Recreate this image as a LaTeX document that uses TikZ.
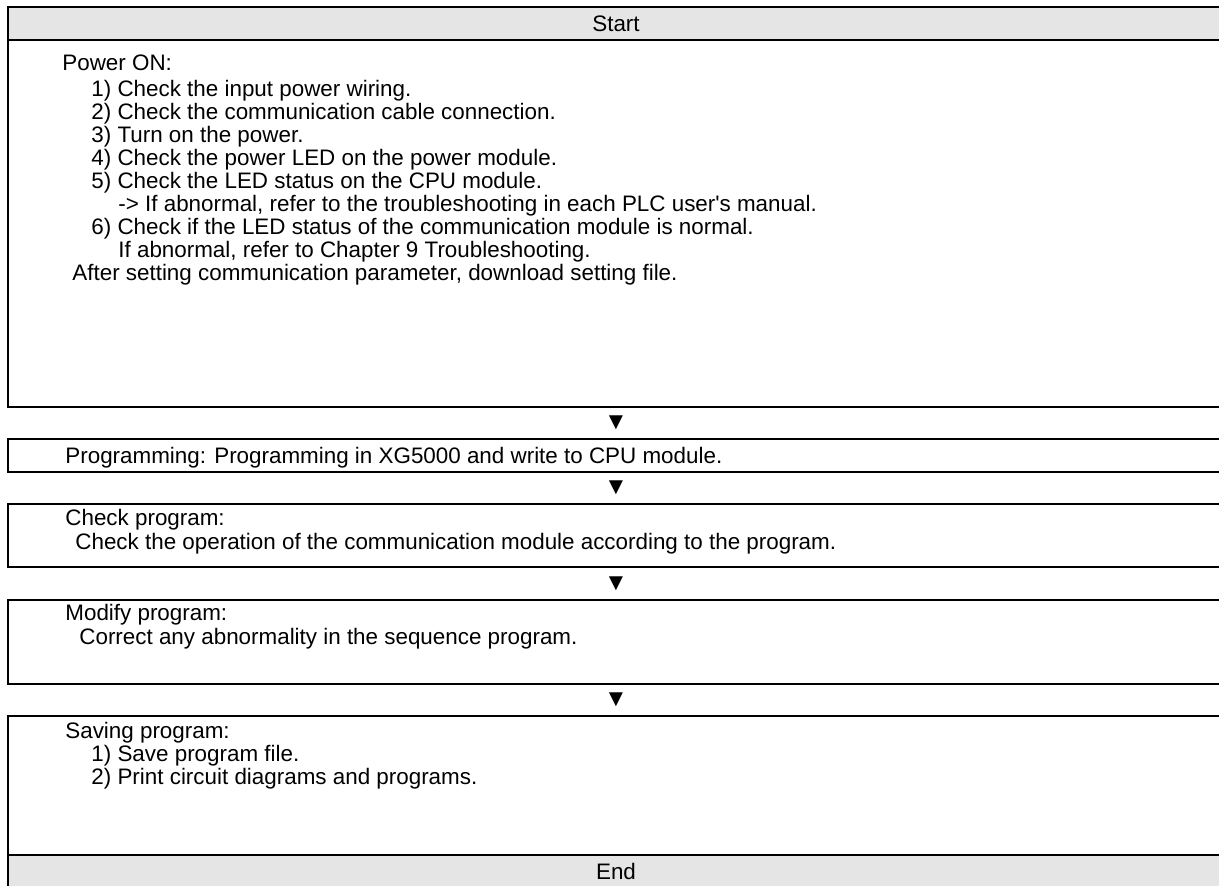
\documentclass[tikz,border=0pt]{standalone}
\usepackage{fontspec}
\setmainfont{Liberation Sans}
\usetikzlibrary{positioning}
\definecolor{barfill}{HTML}{E5E5E5}
\tikzset{
  stepbox/.style={rectangle, draw, line width=1pt, outer sep=0pt, inner sep=0pt, minimum width=608pt},
  endbar/.style={stepbox, fill=barfill, minimum height=16.5pt, font=\fontsize{11.2pt}{11.5pt}\selectfont},
  gapmark/.style={inner sep=0pt, outer sep=0pt, minimum height=16pt, font=\fontsize{12pt}{12pt}\selectfont},
  steptext/.style={anchor=north west, inner sep=0pt, align=left, font=\fontsize{11.2pt}{11.5pt}\selectfont}
}

\begin{document}
\begin{tikzpicture}
	\clip (0pt,0pt) rectangle (609.5pt,-442.5pt);
	\useasboundingbox (0pt,0pt) rectangle (609.5pt,-442.5pt);

	\node[endbar, anchor=north] (start) at (308pt,-3.5pt) {Start};
	\node[stepbox, minimum height=183.5pt, below=0pt of start] (power) {};
	\node[gapmark, below=0pt of power] (markA) {▼};
	\node[stepbox, minimum height=16.5pt, below=0pt of markA] (prog) {};
	\node[gapmark, below=0pt of prog] (markB) {▼};
	\node[stepbox, minimum height=31.5pt, below=0pt of markB] (check) {};
	\node[gapmark, minimum height=16.5pt, below=0pt of check] (markC) {▼};
	\node[stepbox, minimum height=42pt, below=0pt of markC] (modify) {};
	\node[gapmark, below=0pt of modify] (markD) {▼};
	\node[stepbox, minimum height=69.5pt, below=0pt of markD] (saving) {};
	\node[endbar, below=0pt of saving] (end) {End};

	\node[steptext] (powertxt) at ([xshift=27pt,yshift=-7pt]power.north west) {Power ON:\\[1.5pt]
		\hspace*{14.5pt}1) Check the input power wiring.\\
		\hspace*{14.5pt}2) Check the communication cable connection.\\
		\hspace*{14.5pt}3) Turn on the power.\\
		\hspace*{14.5pt}4) Check the power LED on the power module.\\
		\hspace*{14.5pt}5) Check the LED status on the CPU module.\\
		\hspace*{28pt}-> If abnormal, refer to the troubleshooting in each PLC user\textquotesingle s manual.\\
		\hspace*{14.5pt}6) Check if the LED status of the communication module is normal.\\
		\hspace*{28pt}If abnormal, refer to Chapter 9 Troubleshooting.\\
		\hspace*{5pt}After setting communication parameter, download setting file.};
	\node[steptext] (progtxt) at ([xshift=28.5pt,yshift=-4pt]prog.north west) {Programming: Programming in XG5000 and write to CPU module.};
	\node[steptext] (checktxt) at ([xshift=28.5pt,yshift=-2.5pt]check.north west) {Check program:\\[0.5pt]
		\hspace*{5pt}Check the operation of the communication module according to the program.};
	\node[steptext] (modifytxt) at ([xshift=28.5pt,yshift=-2pt]modify.north west) {Modify program:\\[0.5pt]
		\hspace*{7pt}Correct any abnormality in the sequence program.};
	\node[steptext] (savingtxt) at ([xshift=28.5pt,yshift=-3pt]saving.north west) {Saving program:\\
		\hspace*{13pt}1) Save program file.\\
		\hspace*{13pt}2) Print circuit diagrams and programs.};
\end{tikzpicture}
\end{document}
